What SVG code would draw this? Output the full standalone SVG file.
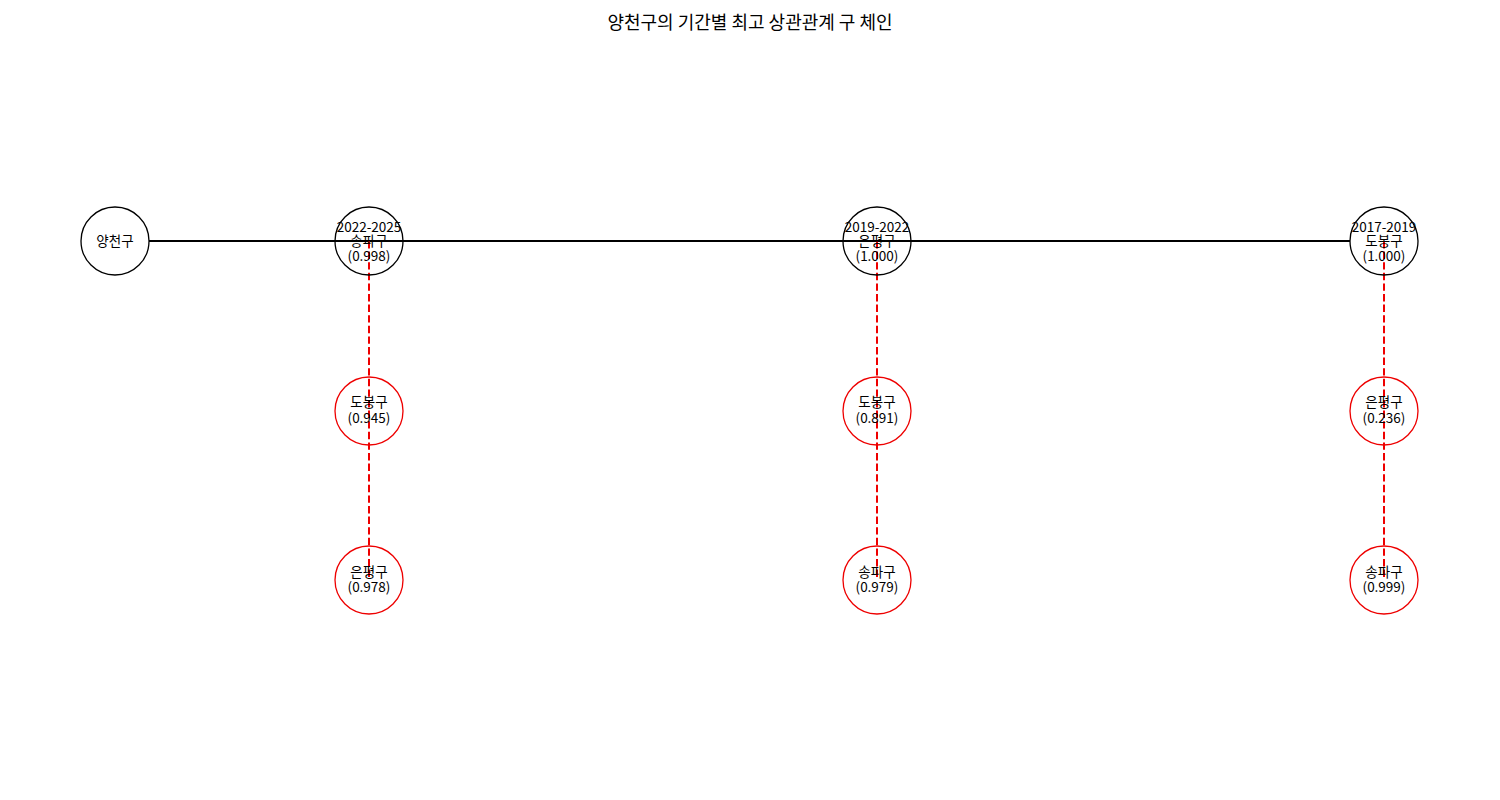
<svg xmlns="http://www.w3.org/2000/svg" width="1500" height="800" viewBox="0 0 1500 800">
<style>
text{font-family:"Noto Sans CJK KR","Noto Sans",sans-serif;font-size:13.5px;fill:#000;text-anchor:middle;dominant-baseline:central}
.title{font-size:18px}
.main{fill:none;stroke:#000;stroke-width:1.3}
.alt{fill:none;stroke:#e00;stroke-width:1.3}
.chain{stroke:#000;stroke-width:2;fill:none}
.dash{stroke:#e00;stroke-width:2;stroke-dasharray:7.4,3.2;fill:none}
</style>
<rect width="1500" height="800" fill="#fff"/>
<text class="title" x="750" y="21">양천구의 기간별 최고 상관관계 구 체인</text>
<g id="connectors">
<line class="chain" x1="149" y1="241" x2="1350" y2="241"/>
<line class="dash" x1="369" y1="241" x2="369" y2="580"/>
<line class="dash" x1="877" y1="241" x2="877" y2="580"/>
<line class="dash" x1="1384" y1="241" x2="1384" y2="580"/>
</g>
<g id="n-yangcheon"><circle class="main" cx="115" cy="241" r="34"/><text x="115" y="240">양천구</text></g>
<g id="n-p1"><circle class="main" cx="369" cy="241" r="34"/><text x="369" y="226">2022-2025</text><text x="369" y="240">송파구</text><text x="369" y="255">(0.998)</text></g>
<g id="n-p2"><circle class="main" cx="877" cy="241" r="34"/><text x="877" y="226">2019-2022</text><text x="877" y="240">은평구</text><text x="877" y="255">(1.000)</text></g>
<g id="n-p3"><circle class="main" cx="1384" cy="241" r="34"/><text x="1384" y="226">2017-2019</text><text x="1384" y="240">도봉구</text><text x="1384" y="255">(1.000)</text></g>
<g id="n-p1a"><circle class="alt" cx="369" cy="411" r="34"/><text x="369" y="401">도봉구</text><text x="369" y="417">(0.945)</text></g>
<g id="n-p1b"><circle class="alt" cx="369" cy="580" r="34"/><text x="369" y="571">은평구</text><text x="369" y="586">(0.978)</text></g>
<g id="n-p2a"><circle class="alt" cx="877" cy="411" r="34"/><text x="877" y="401">도봉구</text><text x="877" y="417">(0.891)</text></g>
<g id="n-p2b"><circle class="alt" cx="877" cy="580" r="34"/><text x="877" y="571">송파구</text><text x="877" y="586">(0.979)</text></g>
<g id="n-p3a"><circle class="alt" cx="1384" cy="411" r="34"/><text x="1384" y="401">은평구</text><text x="1384" y="417">(0.236)</text></g>
<g id="n-p3b"><circle class="alt" cx="1384" cy="580" r="34"/><text x="1384" y="571">송파구</text><text x="1384" y="586">(0.999)</text></g>
</svg>
